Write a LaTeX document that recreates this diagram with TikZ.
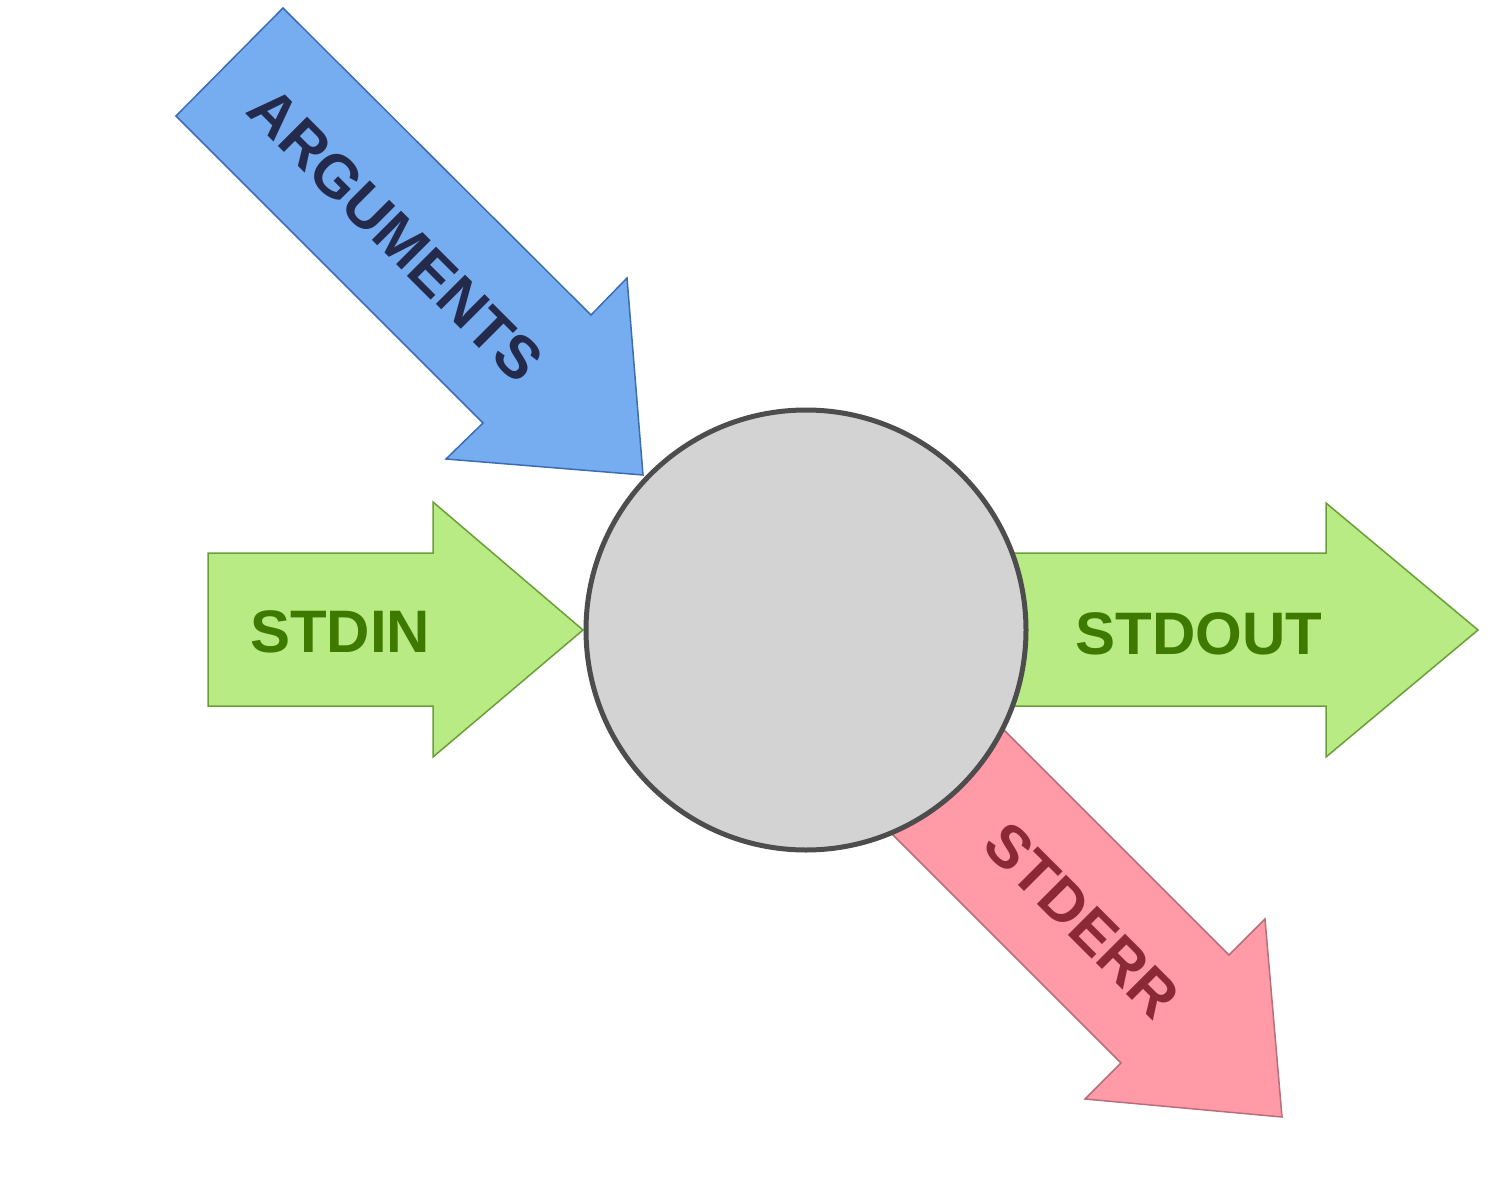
\documentclass[tikz,border=0pt]{standalone}
\usepackage{fontspec}
\setmainfont{Liberation Sans}
\definecolor{gfill}{HTML}{B9EB84}
\definecolor{gline}{HTML}{6A9F37}
\definecolor{gtext}{HTML}{3F7A00}
\definecolor{bfill}{HTML}{76ADF0}
\definecolor{bline}{HTML}{3B6DB3}
\definecolor{btext}{HTML}{232A4B}
\definecolor{rfill}{HTML}{FF9AA6}
\definecolor{rline}{HTML}{B86F7C}
\definecolor{rtext}{HTML}{8B2A36}
\definecolor{cfill}{HTML}{D3D3D3}
\definecolor{cline}{HTML}{4D4D4D}
\begin{document}
\begin{tikzpicture}[x=1pt,y=-1pt,
  arrowshape/.style={line width=1.5pt, line join=miter},
  greenarrow/.style={arrowshape, fill=gfill, draw=gline},
  bluearrow/.style={arrowshape, fill=bfill, draw=bline},
  redarrow/.style={arrowshape, fill=rfill, draw=rline},
  lbl/.style={inner sep=0pt, font=\fontsize{60}{72}\selectfont\bfseries},
  proc/.style={circle, minimum size=440pt, inner sep=0pt, fill=cfill, draw=cline, line width=5pt}]
\useasboundingbox (0,0) rectangle (1504,1180);
% arrows
\draw[bluearrow] (176,116) -- (283,8) -- (591,315) -- (627,278) -- (643,475) -- (446,459) -- (483,423) -- cycle;
\draw[greenarrow] (208,553) -- (433,553) -- (433,502) -- (583,630) -- (433,757) -- (433,706) -- (208,706) -- cycle;
\draw[greenarrow] (950,553) -- (1326,553) -- (1326,503) -- (1478,630) -- (1326,757) -- (1326,706) -- (950,706) -- cycle;
\draw[redarrow] (929,655) -- (1229,955) -- (1265,919) -- (1282,1117) -- (1085,1099) -- (1121,1063) -- (821,763) -- cycle;
% process circle
\node[proc] (p) at (806,630) {};
% labels
\node[lbl, text=btext, rotate=-45] (args) at (396,235) {ARGUMENTS};
\node[lbl, text=gtext, anchor=base] (stdin) at (340,652) {STDIN};
\node[lbl, text=gtext, anchor=base] (stdout) at (1199,654) {STDOUT};
\node[lbl, text=rtext, rotate=-45] (stderr) at (1082,920) {STDERR};
\end{tikzpicture}
\end{document}
